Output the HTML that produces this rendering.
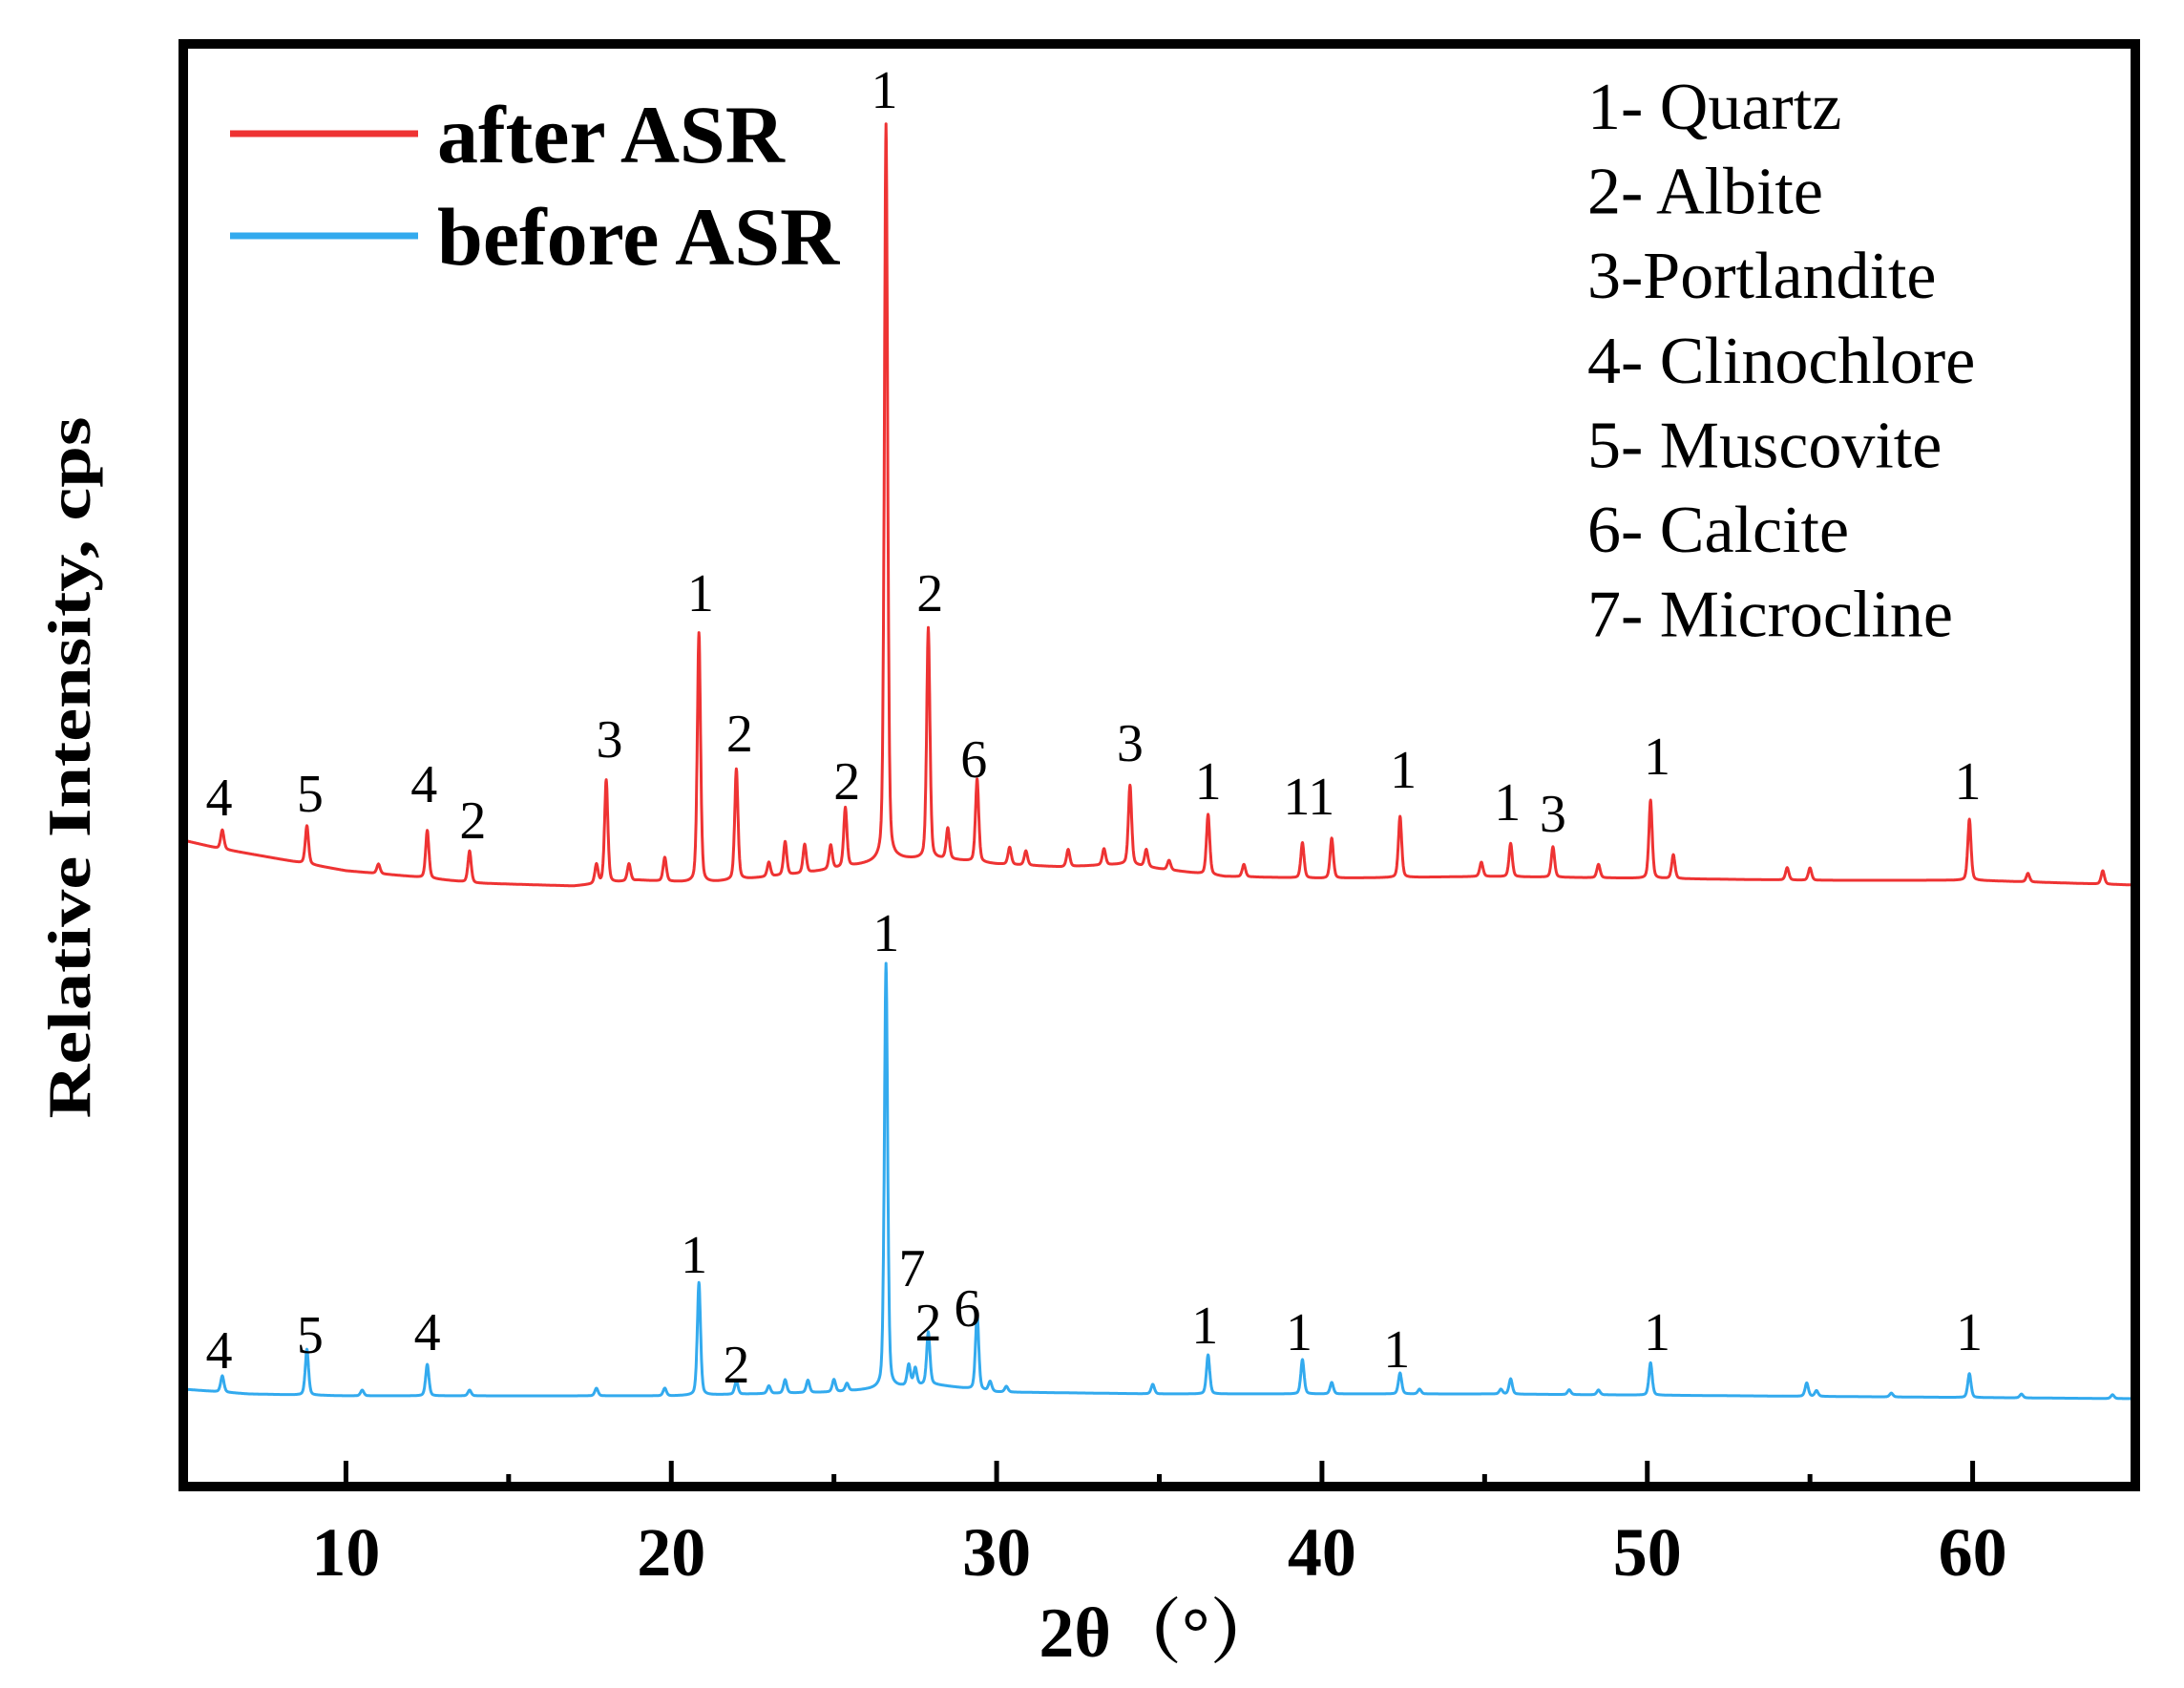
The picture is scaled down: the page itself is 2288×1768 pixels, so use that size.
<!DOCTYPE html>
<html><head><meta charset="utf-8"><style>
html,body{margin:0;padding:0;background:#fff;}
svg{display:block;}
text{font-family:"Liberation Serif","Noto Serif CJK SC",serif;}
</style></head><body>
<svg id="chart" width="2288" height="1768" viewBox="0 0 2288 1768" xmlns="http://www.w3.org/2000/svg">
<g id="series"></g><g id="labels"></g><g id="axes"></g>
<g>
<line x1="241" y1="140" x2="438" y2="140" stroke="#ee3333" stroke-width="7"/>
<text x="458" y="170" font-size="86" font-weight="bold">after ASR</text>
<line x1="241" y1="247" x2="438" y2="247" stroke="#33aaee" stroke-width="7"/>
<text x="458" y="277" font-size="86" font-weight="bold">before ASR</text>
</g>
<g id="phases"></g>
<text transform="translate(94,804) rotate(-90)" text-anchor="middle" font-size="64" font-weight="bold" textLength="735" lengthAdjust="spacingAndGlyphs">Relative Intensity, cps</text>
<text x="1215" y="1735" text-anchor="middle" font-size="74" font-weight="bold">2θ（°）</text>
</svg>
<script>
// ---- data ----
const xTicks = [10,20,30,40,50,60];
const xMinorTicks = [15,25,35,45,55];
const phaseNames = ["1- Quartz","2- Albite","3-Portlandite","4- Clinochlore","5- Muscovite","6- Calcite","7- Microcline"];
// after ASR: baseline control points (2θ, intensity) and peaks (2θ, height above baseline)
const afterBaseX = [5,6,8,10,12,14,17,19,21,24,26,27,28.5,30,32,34,35,37,40,45,50,55,60,65];
const afterBaseV = [677,669,657,645,639,632,629,635,632,642,652,657,657,652,649,652,647,639,637,639,637,635,635,630];
const afterPeakX = [6.2,8.8,11.0,12.5,13.8,17.7,18.0,18.7,19.8,20.85,22.0,23.0,23.5,24.1,24.9,25.35,26.6,27.9,28.5,29.4,30.4,30.9,32.2,33.3,34.1,34.6,35.3,36.5,37.6,39.4,40.3,42.4,44.9,45.8,47.1,48.5,50.1,50.8,54.3,55.0,59.9,61.7,64.0];
const afterPeakH = [20,40,10,50,33,20,108,18,25,262,116,15,35,30,25,62,772,242,32,87,18,15,18,17,83,18,10,63,13,37,42,64,15,35,32,14,82,25,13,13,64,9,14];
// before ASR
const beforeBaseX = [5,7,10,20,25,26.3,28,30,35,45,65];
const beforeBaseV = [102,97,95,95,99,102,107,99,97,97,92];
const beforePeakX = [6.2,8.8,10.5,12.5,13.8,17.7,19.8,20.85,22.0,23.0,23.5,24.2,25.0,25.4,26.6,27.3,27.5,27.9,29.4,29.8,30.3,34.8,36.5,39.4,40.3,42.4,43.0,45.5,45.8,47.6,48.5,50.1,54.9,55.2,57.5,59.9,61.5,64.3];
const beforePeakH = [17,48,6,33,6,8,8,118,14,8,14,13,13,8,445,22,18,55,80,10,6,10,41,36,12,22,5,5,16,5,5,34,14,6,4,25,4,4];
// peak labels
const afterLabX = [6.1,8.9,12.4,13.9,18.1,20.9,22.1,25.4,26.55,27.95,29.3,34.1,36.5,39.6,42.5,45.7,47.1,50.3,59.85];
const afterLabV = [722,726,736,698,783,936,789,739,1463,936,762,779,739,723,751,717,705,765,739];
const afterLabT = ["4","5","4","2","3","1","2","2","1","2","6","3","1","11","1","1","3","1","1"];
const beforeLabX = [6.1,8.9,12.5,20.7,22.0,26.6,27.4,27.9,29.1,36.4,39.3,42.3,50.3,59.9];
const beforeLabV = [143,159,162,243,128,580,229,172,187,169,162,144,162,162];
const beforeLabT = ["4","5","4","1","2","1","7","2","6","1","1","1","1","1"];

// ---- scales ----
const X0=192, X1=2237, D0=5, D1=65;
const xs = d => X0 + (d-D0)*(X1-X0)/(D1-D0);
const YB = 1557;
const ys = v => YB - v;
const NS="http://www.w3.org/2000/svg";
function mk(tag, attrs, parent){const e=document.createElementNS(NS,tag);for(const k in attrs)e.setAttribute(k,attrs[k]);parent.appendChild(e);return e;}
function interp(bx,bv,d){if(d<=bx[0])return bv[0];for(let i=1;i<bx.length;i++){if(d<=bx[i]){const t=(d-bx[i-1])/(bx[i]-bx[i-1]);return bv[i-1]+t*(bv[i]-bv[i-1]);}}return bv[bv.length-1];}
function curve(bx,bv,px,ph,d){let v=interp(bx,bv,d);for(let i=0;i<px.length;i++){const w=0.075;const z=(d-px[i])/w;v+=ph[i]*(0.6*Math.exp(-z*z)+0.4/(1+z*z*2));}return v;}
function pathFor(bx,bv,px,ph){let s="";for(let d=D0;d<=D1+1e-9;d+=0.01){s+=(s?"L":"M")+xs(d).toFixed(1)+","+ys(curve(bx,bv,px,ph,d)).toFixed(1);}return s;}

const gS=document.getElementById('series');
const pa=mk('path',{d:pathFor(afterBaseX,afterBaseV,afterPeakX,afterPeakH),fill:'none',stroke:'#ee3333','stroke-width':3,'stroke-linejoin':'round'},gS);


const pb=mk('path',{d:pathFor(beforeBaseX,beforeBaseV,beforePeakX,beforePeakH),fill:'none',stroke:'#33aaee','stroke-width':3,'stroke-linejoin':'round'},gS);



const gL=document.getElementById('labels');
for(let i=0;i<afterLabX.length;i++){
  const t=mk('text',{x:xs(afterLabX[i]),y:ys(afterLabV[i])+19,'text-anchor':'middle','font-size':56},gL);
  t.textContent=afterLabT[i];
  
  
}
for(let i=0;i<beforeLabX.length;i++){
  const t=mk('text',{x:xs(beforeLabX[i]),y:ys(beforeLabV[i])+19,'text-anchor':'middle','font-size':56},gL);
  t.textContent=beforeLabT[i];
  
  
}

const gA=document.getElementById('axes');
const fr=mk('rect',{x:192,y:46,width:2045,height:1511,fill:'none',stroke:'#000','stroke-width':10},gA);


for(const d of xTicks){
  const l=mk('line',{x1:xs(d),x2:xs(d),y1:YB,y2:YB-27,stroke:'#000','stroke-width':5},gA);
  
  
  const t=mk('text',{x:xs(d),y:1650,'text-anchor':'middle','font-size':72,'font-weight':'bold'},gA);
  t.textContent=String(d);
  
  
}
for(const d of xMinorTicks){
  const l=mk('line',{x1:xs(d),x2:xs(d),y1:YB,y2:YB-13,stroke:'#000','stroke-width':5},gA);
  
  
}
const gP=document.getElementById('phases');
phaseNames.forEach((n,i)=>{
  const t=mk('text',{x:1663,y:135+88.6*i,'font-size':70},gP);
  t.textContent=n;
  
  
});
</script>
</body></html>
